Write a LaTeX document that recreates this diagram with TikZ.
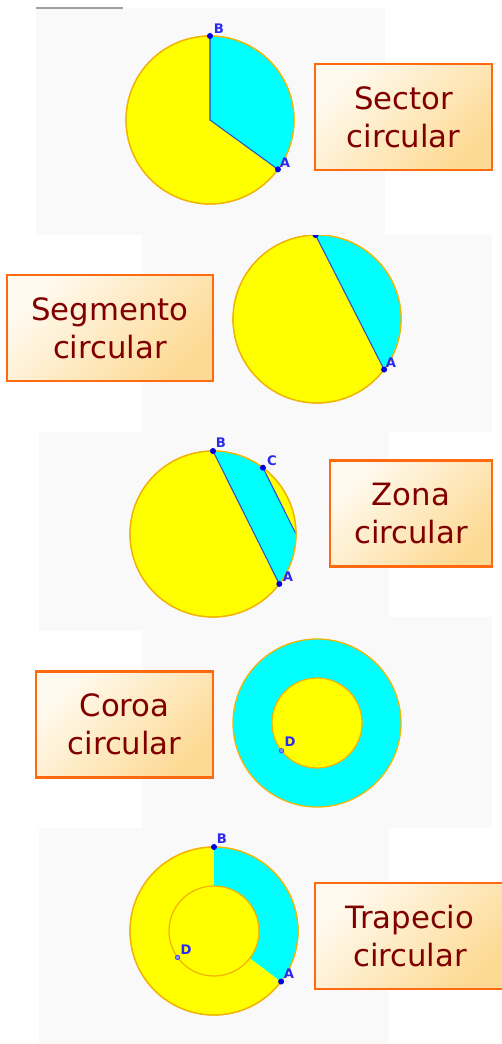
\documentclass[tikz,border=0pt]{standalone}
\usepackage{fontspec}
\newfontfamily\boxfont{DejaVu Sans}

\definecolor{geoyellow}{HTML}{FFFF00}
\definecolor{geocyan}{HTML}{00FFFF}
\definecolor{geoedge}{HTML}{F2B400}
\definecolor{chordblue}{HTML}{2F4FD0}
\definecolor{ptblue}{HTML}{0000E6}
\definecolor{lblblue}{HTML}{2A2AF0}
\definecolor{boxtext}{HTML}{800000}
\definecolor{boxframe}{HTML}{FF6A10}
\definecolor{boxlight}{HTML}{FFFAF0}
\definecolor{boxdark}{HTML}{FDDA94}
\definecolor{panelgray}{HTML}{F9F9F9}

\begin{document}
\begin{tikzpicture}[x=0.02cm, y=0.02cm,
    panel/.style={fill=panelgray},
    disc/.style={fill=geoyellow, draw=geoedge, line width=0.7pt},
    rim/.style={draw=geoedge, line width=0.7pt},
    chord/.style={draw=chordblue, line width=0.6pt},
    pt/.style={circle, fill=ptblue, inner sep=0pt, minimum size=1.2mm},
    freept/.style={circle, fill=blue!45, draw=blue!75, line width=0.4pt,
                   inner sep=0pt, minimum size=0.9mm},
    ptlabel/.style={text=lblblue, font=\boxfont\bfseries\fontsize{7.5}{8}\selectfont,
                    inner sep=0pt},
    namebox/.style={draw=boxframe, line width=1.2pt, top color=boxlight,
                    bottom color=boxdark, shading angle=45, text=boxtext,
                    font=\boxfont\fontsize{17.5}{21.5}\selectfont, align=center,
                    minimum height=2.12cm, inner sep=0pt}]
    \useasboundingbox (0,0) rectangle (502,-1044);

    % screenshot backgrounds
    \fill[panel] (36,-8) rectangle (385,-235);
    \fill[panel] (142,-235) rectangle (492,-432);
    \fill[panel] (39,-432) rectangle (389,-631);
    \fill[panel] (142,-617) rectangle (492,-828);
    \fill[panel] (39,-828) rectangle (389,-1044);
    \draw[gray!75, line width=0.6pt] (36,-8) -- (123,-8);

    % sector
    \coordinate (O1) at (210,-120);
    \path (O1) ++(90:84) coordinate (B1);
    \path (O1) ++(-36:84) coordinate (A1);
    \filldraw[disc] (O1) circle[radius=84];
    \fill[geocyan] (O1) -- (B1) arc[start angle=90, end angle=-36, radius=84] -- cycle;
    \draw[chord] (B1) -- (O1) -- (A1);
    \draw[rim] (O1) circle[radius=84];
    \node[pt] (pB1) at (B1) {};
    \node[pt] (pA1) at (A1) {};
    \node[ptlabel] (lB1) at (219,-29) {B};
    \node[ptlabel] (lA1) at (285,-163) {A};

    % segment
    \begin{scope}
        \clip (142,-235) rectangle (492,-432);
        \coordinate (O2) at (317,-319);
        \path (O2) ++(91:84) coordinate (B2);
        \path (O2) ++(-37:84) coordinate (A2);
        \filldraw[disc] (O2) circle[radius=84];
        \fill[geocyan] (B2) arc[start angle=91, end angle=-37, radius=84] -- cycle;
        \draw[chord] (B2) -- (A2);
        \draw[rim] (O2) circle[radius=84];
        \node[pt] (pB2) at (B2) {};
        \node[pt] (pA2) at (A2) {};
        \node[ptlabel] (lA2) at (391,-363) {A};
    \end{scope}

    % zone
    \coordinate (O3) at (213,-534);
    \path (O3) ++(90:83) coordinate (B3);
    \path (O3) ++(53:83) coordinate (C3);
    \path (O3) ++(0:83) coordinate (E3);
    \path (O3) ++(-37:83) coordinate (A3);
    \filldraw[disc] (O3) circle[radius=83];
    \fill[geocyan] (B3) arc[start angle=90, end angle=53, radius=83] -- (E3)
        arc[start angle=0, end angle=-37, radius=83] -- cycle;
    \draw[chord] (B3) -- (A3);
    \draw[chord] (C3) -- (E3);
    \draw[rim] (O3) circle[radius=83];
    \node[pt] (pB3) at (B3) {};
    \node[pt] (pC3) at (C3) {};
    \node[pt] (pA3) at (A3) {};
    \node[ptlabel] (lB3) at (221,-443) {B};
    \node[ptlabel] (lC3) at (272,-461) {C};
    \node[ptlabel] (lA3) at (288,-577) {A};

    % annulus
    \coordinate (O4) at (317,-723);
    \path (O4) ++(218:45) coordinate (D4);
    \filldraw[fill=geocyan, rim] (O4) circle[radius=84];
    \filldraw[disc] (O4) circle[radius=45];
    \node[freept] (pD4) at (D4) {};
    \node[ptlabel] (lD4) at (290,-742) {D};

    % annular sector
    \coordinate (O5) at (214,-931);
    \path (O5) ++(90:84) coordinate (B5);
    \path (O5) ++(-37:84) coordinate (A5);
    \path (O5) ++(-37:45) coordinate (I5);
    \path (O5) ++(216:45) coordinate (D5);
    \filldraw[disc] (O5) circle[radius=84];
    \fill[geocyan] (B5) arc[start angle=90, end angle=-37, radius=84] -- (I5)
        arc[start angle=-37, end angle=90, radius=45] -- cycle;
    \draw[rim] (O5) circle[radius=84];
    \draw[rim] (O5) circle[radius=45];
    \node[pt] (pB5) at (B5) {};
    \node[pt] (pA5) at (A5) {};
    \node[freept] (pD5) at (D5) {};
    \node[ptlabel] (lB5) at (222,-839) {B};
    \node[ptlabel] (lA5) at (289,-974) {A};
    \node[ptlabel] (lD5) at (186,-950) {D};

    % names
    \node[namebox, minimum width=3.54cm] (sector)   at (403.5,-117) {Sector\\circular};
    \node[namebox, minimum width=4.12cm] (segmento) at (110,-328)   {Segmento\\circular};
    \node[namebox, minimum width=3.24cm] (zona)     at (411,-513.5) {Zona\\circular};
    \node[namebox, minimum width=3.54cm] (coroa)    at (124.5,-724.5) {Coroa\\circular};
    \node[namebox, minimum width=3.80cm] (trapecio) at (410,-936)   {Trapecio\\circular};
\end{tikzpicture}
\end{document}
